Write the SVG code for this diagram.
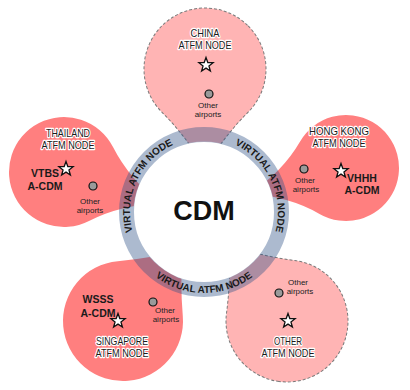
<svg xmlns="http://www.w3.org/2000/svg" xmlns:xlink="http://www.w3.org/1999/xlink" width="410" height="390" viewBox="0 0 410 390">
<style>
.red{fill:#ff7f7f;stroke:none}
.pink{fill:#ffb4b4;stroke:#7a7a7a;stroke-width:1;stroke-dasharray:3 2}
.title{font-family:"Liberation Sans",Arial,sans-serif;font-size:10.5px;fill:#1a1a1a;stroke:#fff;stroke-width:2.4;paint-order:stroke;stroke-linejoin:round;text-anchor:middle}
.oth{font-family:"Liberation Sans",Arial,sans-serif;font-size:8px;fill:#222;text-anchor:middle}
.code{font-family:"Liberation Sans",Arial,sans-serif;font-size:10.5px;font-weight:bold;fill:#1a1a1a;text-anchor:middle}
.ap{fill:#9a9a9a;stroke:#111;stroke-width:1.2}
.ring{font-family:"Liberation Sans",Arial,sans-serif;font-size:10px;font-weight:bold;fill:#1a1a1a}
</style>
<defs>
<polygon id="star" points="0,-7.5 1.822,-2.508 7.133,-2.318 2.948,0.958 4.408,6.068 0,3.1 -4.408,6.068 -2.948,0.958 -7.133,-2.318 -1.822,-2.508" fill="#fff" stroke="#111" stroke-width="1.3" stroke-linejoin="miter"/>
<path id="arcL" d="M143.38,254.44 A74,74 0 0 1 197.55,138.28"/>
<path id="arcR" d="M210.45,138.28 A74,74 0 0 1 264.62,254.44"/>
<path id="arcB" d="M133.85,252.5 A81,81 0 0 0 274.15,252.5"/>
</defs>
<g id="node-china">
<path class="pink" transform="translate(205,69) rotate(135)" d="M-61,0 A61,61 0 0 1 0,-61 Q35.08,-61 70.15,-70.15 Q61,-35.08 61,0 A61,61 0 0 1 0,61 A61,61 0 0 1 -61,0 Z"/>
<text class="title" x="205" y="37" textLength="29" lengthAdjust="spacingAndGlyphs">CHINA</text>
<text class="title" x="205" y="49" textLength="53" lengthAdjust="spacingAndGlyphs">ATFM NODE</text>
<use xlink:href="#star" x="206" y="65"/>
<circle class="ap" cx="209" cy="94" r="4"/>
<text class="oth" x="208" y="108">Other</text>
<text class="oth" x="208" y="117">airports</text>
</g>
<g id="node-hongkong">
<path class="red" transform="translate(346,168) rotate(210)" d="M-53,0 A53,53 0 0 1 0,-53 Q35.51,-53 71.02,-71.02 Q53,-35.51 53,0 A53,53 0 0 1 0,53 A53,53 0 0 1 -53,0 Z"/>
<text class="title" x="339" y="135" textLength="60" lengthAdjust="spacingAndGlyphs">HONG KONG</text>
<text class="title" x="339" y="147" textLength="53" lengthAdjust="spacingAndGlyphs">ATFM NODE</text>
<use xlink:href="#star" x="341" y="171"/>
<circle class="ap" cx="304" cy="169" r="4"/>
<text class="oth" x="305" y="183">Other</text>
<text class="oth" x="306" y="192">airports</text>
<text class="code" x="362" y="182">VHHH</text>
<text class="code" x="362" y="194">A-CDM</text>
</g>
<g id="node-thailand">
<path class="red" transform="translate(64,172) rotate(63)" d="M-55,0 A55,55 0 0 1 0,-55 Q35.75,-55 71.5,-71.5 Q55,-35.75 55,0 A55,55 0 0 1 0,55 A55,55 0 0 1 -55,0 Z"/>
<text class="title" x="68" y="137" textLength="44" lengthAdjust="spacingAndGlyphs">THAILAND</text>
<text class="title" x="68" y="149" textLength="53" lengthAdjust="spacingAndGlyphs">ATFM NODE</text>
<use xlink:href="#star" x="66" y="169"/>
<circle class="ap" cx="93" cy="186" r="4"/>
<text class="oth" x="90" y="204">Other</text>
<text class="oth" x="90" y="213">airports</text>
<text class="code" x="45" y="177">VTBS</text>
<text class="code" x="45" y="190">A-CDM</text>
</g>
<g id="node-singapore">
<path class="red" transform="translate(123,321) rotate(-5)" d="M-60,0 A60,60 0 0 1 0,-60 Q33,-60 66,-66 Q60,-33 60,0 A60,60 0 0 1 0,60 A60,60 0 0 1 -60,0 Z"/>
<text class="title" x="122" y="345" textLength="52" lengthAdjust="spacingAndGlyphs">SINGAPORE</text>
<text class="title" x="122" y="357" textLength="53" lengthAdjust="spacingAndGlyphs">ATFM NODE</text>
<use xlink:href="#star" x="118" y="321"/>
<circle class="ap" cx="153" cy="302" r="4"/>
<text class="oth" x="165" y="313">Other</text>
<text class="oth" x="166" y="322">airports</text>
<text class="code" x="98" y="303">WSSS</text>
<text class="code" x="98" y="317">A-CDM</text>
</g>
<g id="node-other">
<path class="pink" transform="translate(287,321) rotate(-82.5)" d="M-61,0 A61,61 0 0 1 0,-61 Q33.55,-61 67.1,-67.1 Q61,-33.55 61,0 A61,61 0 0 1 0,61 A61,61 0 0 1 -61,0 Z"/>
<text class="title" x="288" y="345" textLength="28" lengthAdjust="spacingAndGlyphs">OTHER</text>
<text class="title" x="288" y="357" textLength="53" lengthAdjust="spacingAndGlyphs">ATFM NODE</text>
<use xlink:href="#star" x="288" y="321"/>
<circle class="ap" cx="279" cy="293" r="4"/>
<text class="oth" x="298" y="285">Other</text>
<text class="oth" x="300" y="294">airports</text>
</g>
<g id="node-cdm">
<circle cx="204" cy="212" r="70.5" fill="#fff"/>
<circle cx="204" cy="212" r="77.5" fill="none" stroke="rgb(47,83,135)" stroke-opacity="0.4" stroke-width="15"/>
<text class="ring"><textPath xlink:href="#arcL" startOffset="50%" text-anchor="middle">VIRTUAL ATFM NODE</textPath></text>
<text class="ring"><textPath xlink:href="#arcR" startOffset="50%" text-anchor="middle">VIRTUAL ATFM NODE</textPath></text>
<text class="ring"><textPath xlink:href="#arcB" startOffset="50%" text-anchor="middle">VIRTUAL ATFM NODE</textPath></text>
<text x="204" y="220" font-family="Liberation Sans, Arial, sans-serif" font-size="27" font-weight="bold" fill="#111" text-anchor="middle">CDM</text>
</g>
</svg>
